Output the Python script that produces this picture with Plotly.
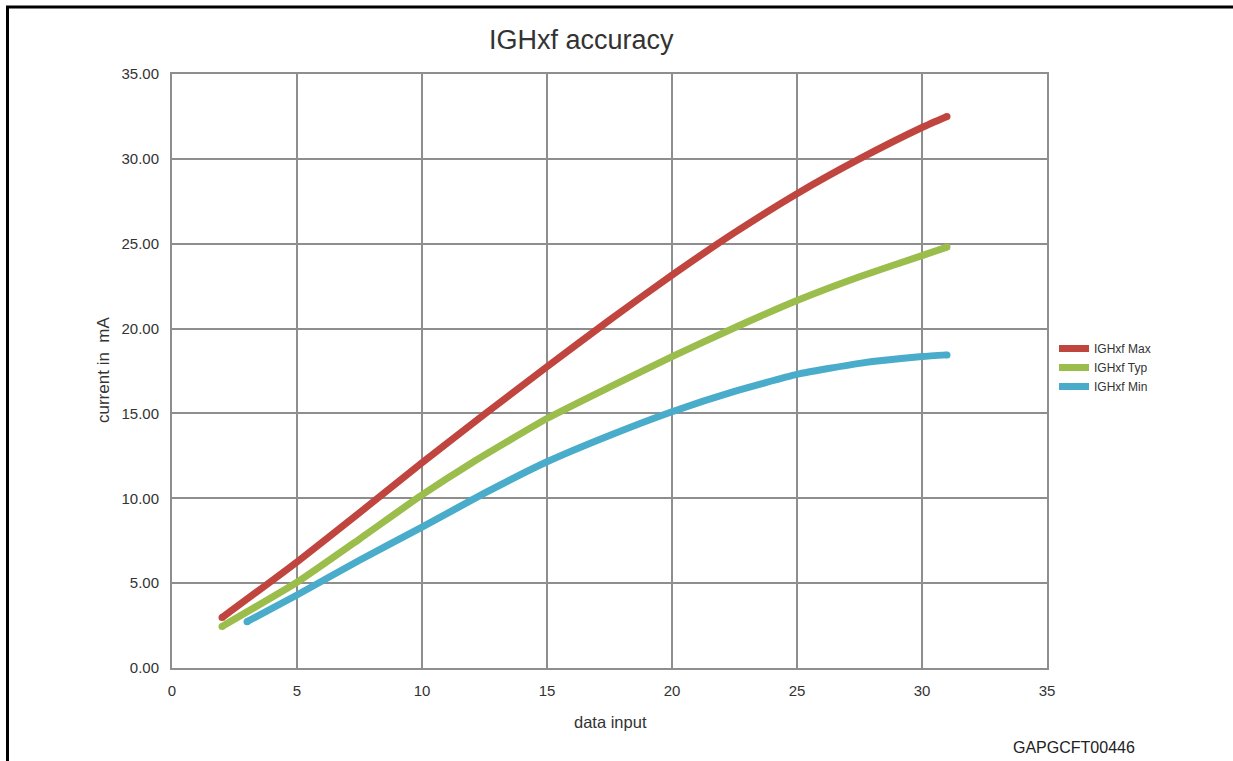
import plotly.graph_objects as go

# Data
max_x = [2, 5, 7.5, 10, 12.5, 15, 17.5, 20, 22.5, 25, 27.5, 30, 31]
max_y = [2.97, 6.25, 9.15, 12.1, 14.95, 17.75, 20.5, 23.15, 25.65, 27.95, 30.0, 31.85, 32.5]

typ_x = [2, 5, 7.5, 10, 12, 15, 17.5, 20, 22.5, 25, 27.5, 30, 31]
typ_y = [2.45, 5.05, 7.6, 10.2, 12.1, 14.7, 16.55, 18.35, 20.05, 21.65, 23.05, 24.3, 24.8]

min_x = [3, 5, 7.5, 10, 12.5, 15, 17.5, 20, 22.5, 25, 27.5, 30, 31]
min_y = [2.73, 4.3, 6.35, 8.3, 10.3, 12.15, 13.7, 15.1, 16.3, 17.3, 17.95, 18.35, 18.45]

series = [
    ("IGHxf Max", max_x, max_y, "#c0453f"),
    ("IGHxf Typ", typ_x, typ_y, "#9bbd4b"),
    ("IGHxf Min", min_x, min_y, "#48acca"),
]

x_ticks = [0, 5, 10, 15, 20, 25, 30, 35]
y_ticks = [0, 5, 10, 15, 20, 25, 30, 35]
y_tick_text = ["%.2f" % v for v in y_ticks]

W, H = 1233, 761
L, R, T, B = 172, 1047, 74, 668

def px(xp):
    return (xp - L) / (R - L)

def py(yp):
    return (B - yp) / (B - T)

fig = go.Figure()
for name, xs, ys, col in series:
    fig.add_trace(go.Scatter(
        x=xs, y=ys, name=name, mode="lines",
        line=dict(color=col, width=7, shape="spline", smoothing=0.5),
    ))
for name, xs, ys, col in series:
    fig.add_trace(go.Scatter(
        x=[xs[0], xs[-1]], y=[ys[0], ys[-1]], mode="markers",
        marker=dict(color=col, size=7), showlegend=False, hoverinfo="skip",
    ))

font = "Liberation Sans, Arial, Helvetica, sans-serif"
grid = "#8e8e8e"

fig.update_layout(
    width=W, height=H,
    margin=dict(l=L, r=W - R, t=T, b=H - B, autoexpand=False),
    paper_bgcolor="white", plot_bgcolor="white",
    font=dict(family=font, color="#333333", size=14),
    showlegend=True,
    legend=dict(
        x=px(1054), y=py(334), xanchor="left", yanchor="top",
        font=dict(size=12, color="#333333"),
        itemwidth=30, tracegroupgap=0, bgcolor="rgba(0,0,0,0)",
    ),
    xaxis=dict(
        range=[0, 35], tickvals=x_ticks, ticktext=[str(v) for v in x_ticks],
        showgrid=True, gridcolor=grid, gridwidth=2,
        showline=True, linecolor=grid, linewidth=2, mirror=True,
        zeroline=False, ticks="outside", ticklen=8, tickcolor="rgba(0,0,0,0)",
        tickfont=dict(size=15, color="#333333"),
    ),
    yaxis=dict(
        range=[0, 35], tickvals=y_ticks, ticktext=y_tick_text,
        showgrid=True, gridcolor=grid, gridwidth=2,
        showline=True, linecolor=grid, linewidth=2, mirror=True,
        zeroline=False, ticks="outside", ticklen=8, tickcolor="rgba(0,0,0,0)",
        tickfont=dict(size=15, color="#333333"),
    ),
    annotations=[
        dict(text="IGHxf accuracy", x=px(581), y=py(40), xref="paper", yref="paper",
             showarrow=False, font=dict(size=27, color="#333333"),
             xanchor="center", yanchor="middle"),
        dict(text="data input", x=px(610), y=py(722), xref="paper", yref="paper",
             showarrow=False, font=dict(size=16.5, color="#333333"),
             xanchor="center", yanchor="middle"),
        dict(text="current in  mA", x=px(103), y=py(370), xref="paper", yref="paper",
             showarrow=False, textangle=-90, font=dict(size=17, color="#333333"),
             xanchor="center", yanchor="middle"),
        dict(text="GAPGCFT00446", x=px(1074), y=py(747), xref="paper", yref="paper",
             showarrow=False, font=dict(size=16, color="#222222"),
             xanchor="center", yanchor="middle"),
    ],
    shapes=[
        dict(type="line", xref="paper", yref="paper",
             x0=px(6), x1=px(1233), y0=py(7), y1=py(7),
             line=dict(color="black", width=3)),
        dict(type="line", xref="paper", yref="paper",
             x0=px(7.5), x1=px(7.5), y0=py(6), y1=py(761),
             line=dict(color="black", width=3)),
    ],
)

fig.write_html(
    "out.html",
    config={"displayModeBar": False},
    post_script="document.body.style.margin='0';document.body.style.overflow='hidden';",
)
